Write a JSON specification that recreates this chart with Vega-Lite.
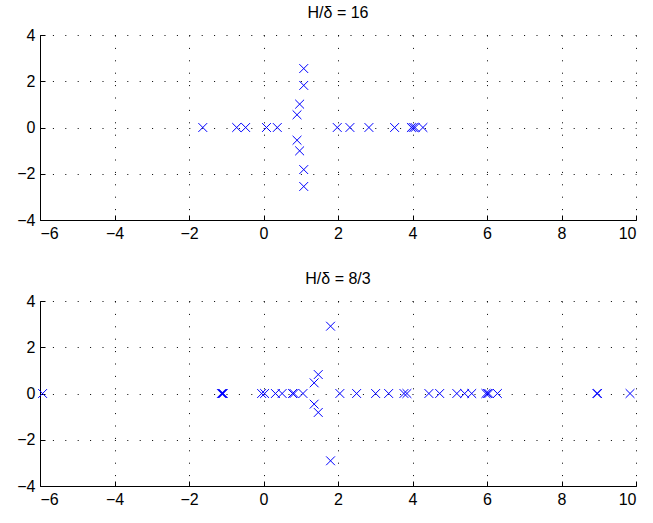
{
  "$schema": "https://vega.github.io/schema/vega-lite/v6.json",
  "background": "white",
  "padding": {"left": 16, "top": 5, "right": 14, "bottom": 6},
  "spacing": 30,
  "datasets": {
    "h16": [
      {"re": -1.63, "im": 0}, {"re": -0.72, "im": 0}, {"re": -0.48, "im": 0},
      {"re": 0.08, "im": 0}, {"re": 0.37, "im": 0}, {"re": 1.98, "im": 0},
      {"re": 2.32, "im": 0}, {"re": 2.83, "im": 0}, {"re": 3.52, "im": 0},
      {"re": 3.97, "im": 0}, {"re": 4.02, "im": 0}, {"re": 4.07, "im": 0},
      {"re": 4.28, "im": 0},
      {"re": 1.08, "im": 2.55}, {"re": 1.08, "im": -2.55},
      {"re": 1.08, "im": 1.82}, {"re": 1.08, "im": -1.82},
      {"re": 0.97, "im": 1.01}, {"re": 0.97, "im": -1.01},
      {"re": 0.9, "im": 0.55}, {"re": 0.9, "im": -0.55}
    ],
    "h8_3": [
      {"re": -5.93, "im": 0}, {"re": -1.13, "im": 0}, {"re": -1.1, "im": 0},
      {"re": -1.08, "im": 0}, {"re": -0.05, "im": 0}, {"re": 0.03, "im": 0},
      {"re": 0.32, "im": 0}, {"re": 0.5, "im": 0}, {"re": 0.78, "im": 0},
      {"re": 0.82, "im": 0}, {"re": 1.06, "im": 0}, {"re": 2.05, "im": 0},
      {"re": 2.5, "im": 0}, {"re": 3.01, "im": 0}, {"re": 3.36, "im": 0},
      {"re": 3.77, "im": 0}, {"re": 3.85, "im": 0}, {"re": 4.44, "im": 0},
      {"re": 4.73, "im": 0}, {"re": 5.19, "im": 0}, {"re": 5.4, "im": 0},
      {"re": 5.59, "im": 0}, {"re": 5.97, "im": 0}, {"re": 6.01, "im": 0},
      {"re": 6.05, "im": 0}, {"re": 6.28, "im": 0}, {"re": 8.95, "im": 0},
      {"re": 8.97, "im": 0}, {"re": 9.84, "im": 0},
      {"re": 1.36, "im": 0.46}, {"re": 1.36, "im": -0.46},
      {"re": 1.47, "im": 0.82}, {"re": 1.47, "im": -0.82},
      {"re": 1.8, "im": 2.91}, {"re": 1.8, "im": -2.91}
    ]
  },
  "config": {
    "font": "Liberation Sans",
    "view": {"stroke": null},
    "title": {"fontSize": 16, "fontWeight": "normal", "color": "black", "frame": "group", "anchor": "middle", "offset": 6},
    "axis": {
      "domainColor": "black",
      "domainWidth": 1,
      "tickColor": "black",
      "tickSize": -5,
      "labelFontSize": 16,
      "labelColor": "black",
      "labelPadding": 10,
      "grid": true,
      "gridColor": "black",
      "gridOpacity": 1,
      "gridWidth": 1,
      "gridDash": [1, 11.4],
      "title": null
    }
  },
  "vconcat": [
    {
      "title": "H/δ = 16",
      "width": 596,
      "height": 185,
      "data": {"name": "h16"},
      "mark": {"type": "point", "shape": "M-1,-1L1,1M-1,1L1,-1", "size": 78, "filled": false, "stroke": "#0000ff", "strokeWidth": 1, "opacity": 1},
      "encoding": {
        "x": {"field": "re", "type": "quantitative", "scale": {"domain": [-6, 10], "nice": false, "zero": false}, "axis": {"values": [-6, -4, -2, 0, 2, 4, 6, 8, 10]}},
        "y": {"field": "im", "type": "quantitative", "scale": {"domain": [-4, 4], "nice": false, "zero": false}, "axis": {"values": [-4, -2, 0, 2, 4]}}
      }
    },
    {
      "title": "H/δ = 8/3",
      "width": 596,
      "height": 185,
      "data": {"name": "h8_3"},
      "mark": {"type": "point", "shape": "M-1,-1L1,1M-1,1L1,-1", "size": 78, "filled": false, "stroke": "#0000ff", "strokeWidth": 1, "opacity": 1},
      "encoding": {
        "x": {"field": "re", "type": "quantitative", "scale": {"domain": [-6, 10], "nice": false, "zero": false}, "axis": {"values": [-6, -4, -2, 0, 2, 4, 6, 8, 10]}},
        "y": {"field": "im", "type": "quantitative", "scale": {"domain": [-4, 4], "nice": false, "zero": false}, "axis": {"values": [-4, -2, 0, 2, 4]}}
      }
    }
  ]
}
